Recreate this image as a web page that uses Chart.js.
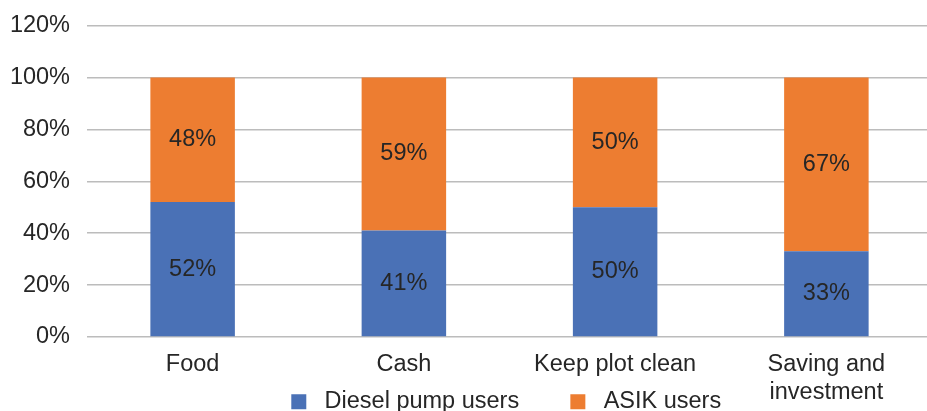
<!DOCTYPE html>
<html>
<head>
<meta charset="utf-8">
<script src="https://cdn.jsdelivr.net/npm/chart.js@4/dist/chart.umd.min.js"></script>
<style>
  html,body{margin:0;padding:0;background:#fff;overflow:hidden;}
  #wrap{width:927px;height:411px;overflow:hidden;}
</style>
</head>
<body>
<div id="wrap"><canvas id="chart" width="932" height="411"></canvas></div>
<script>
const categories = ['Food', 'Cash', 'Keep plot clean', ['Saving and', 'investment']];
const dieselUsers = [52, 41, 50, 33];
const asikUsers = [48, 59, 50, 67];
const yTicks = [0, 20, 40, 60, 80, 100, 120];

const FONT = '"Liberation Sans", Arial, sans-serif';
const TEXT = '#262626';

// percentage labels in the middle of each bar segment
const segLabels = {
  id: 'segLabels',
  afterDatasetsDraw(chart){
    const ctx = chart.ctx;
    ctx.save();
    ctx.font = '23.5px ' + FONT;
    ctx.fillStyle = TEXT;
    ctx.textAlign = 'center';
    ctx.textBaseline = 'middle';
    chart.data.datasets.forEach((ds, i) => {
      chart.getDatasetMeta(i).data.forEach((bar, j) => {
        const p = bar.getCenterPoint();
        ctx.fillText(ds.data[j] + '%', p.x, p.y);
      });
    });
    ctx.restore();
  }
};

// x labels share vertical room with the legend; don't clip the second line
const labelRoom = {
  id: 'labelRoom',
  afterLayout(chart){ chart.scales.x.bottom = chart.height; }
};

new Chart(document.getElementById('chart').getContext('2d'), {
  type: 'bar',
  data: {
    labels: categories,
    datasets: [
      { label: ' Diesel pump users      ', data: dieselUsers, backgroundColor: '#4a71b6' },
      { label: ' ASIK users ', data: asikUsers, backgroundColor: '#ed7d31' }
    ]
  },
  options: {
    responsive: false,
    animation: false,
    barPercentage: 0.4,
    categoryPercentage: 1,
    layout: { padding: { left: 0, right: 0, top: 25.5, bottom: 0 } },
    plugins: {
      tooltip: { enabled: false },
      legend: {
        position: 'bottom',
        fullSize: false,
        maxHeight: 33,
        labels: {
          boxWidth: 15, boxHeight: 15, padding: 12,
          color: TEXT, font: { family: FONT, size: 23.5 }
        }
      }
    },
    scales: {
      x: {
        stacked: true,
        grid: { display: false, drawTicks: false },
        border: { display: false },
        ticks: { color: TEXT, padding: 14, maxRotation: 0, autoSkip: false,
                 font: { family: FONT, size: 23.5, lineHeight: 1.17 } },
        afterFit(axis){ axis.height = 41; }
      },
      y: {
        stacked: true,
        min: 0, max: 120,
        afterBuildTicks(axis){ axis.ticks = yTicks.map(v => ({ value: v })); },
        grid: { color: '#bcbcbc', lineWidth: 1.5, drawTicks: false },
        border: { display: false },
        ticks: { color: TEXT, padding: 17, font: { family: FONT, size: 23.5 },
                 callback: v => v + '%' },
        afterFit(axis){ axis.width = 87; axis.paddingTop = 0; axis.paddingBottom = 0; }
      }
    }
  },
  plugins: [segLabels, labelRoom]
});
</script>
</body>
</html>
